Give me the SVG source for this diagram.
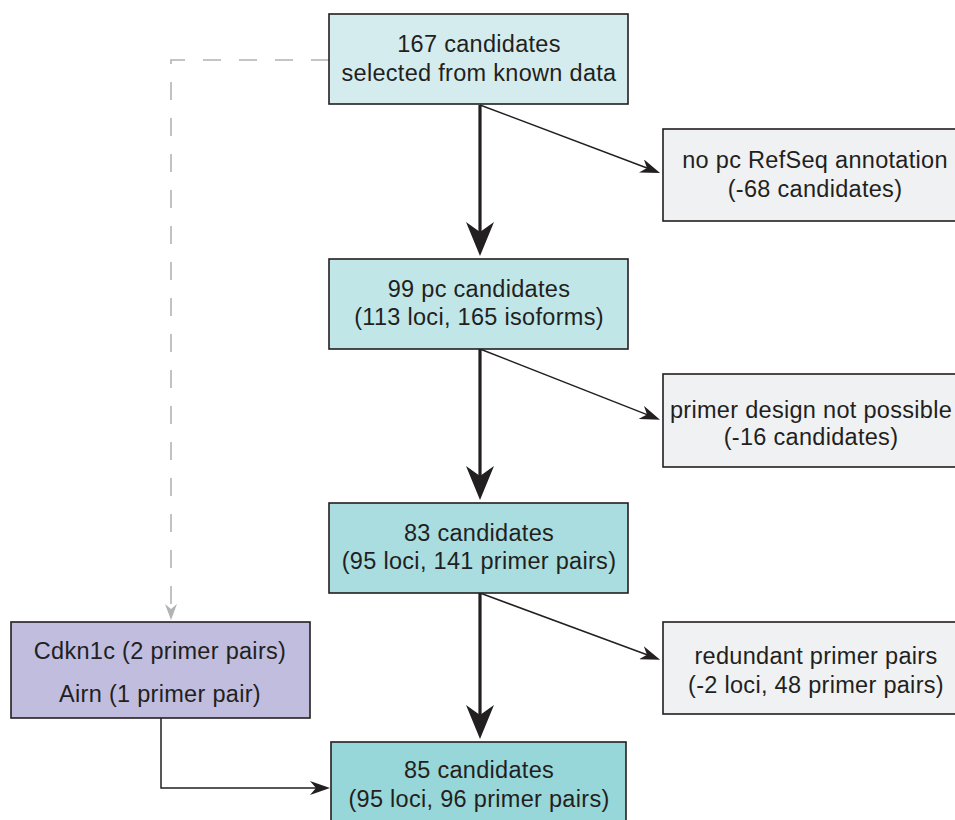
<svg xmlns="http://www.w3.org/2000/svg" width="955" height="820" viewBox="0 0 955 820">
<style>
.box{stroke:#231f20;stroke-width:1.6}
.t{font-family:"Liberation Sans",Arial,sans-serif;font-size:23.5px;letter-spacing:0.3px;fill:#231f20;text-anchor:middle}
.thick{stroke:#231f20;stroke-width:3.2;fill:none}
.thin{stroke:#231f20;stroke-width:1.5;fill:none}
.dash{stroke:#b3b3b3;stroke-width:1.6;fill:none;stroke-dasharray:18 18}
</style>
<defs>
<marker id="big" markerUnits="userSpaceOnUse" viewBox="0 -14 34 28" refX="10" refY="0" markerWidth="34" markerHeight="28" orient="auto"><path d="M34,0 L0,-14 L10,0 L0,14 Z" fill="#231f20"/></marker>
<marker id="small" markerUnits="userSpaceOnUse" viewBox="0 -7 20 14" refX="6" refY="0" markerWidth="20" markerHeight="14" orient="auto"><path d="M20,0 L0,-7 L6,0 L0,7 Z" fill="#231f20"/></marker>
<marker id="grey" markerUnits="userSpaceOnUse" viewBox="0 -6 16 12" refX="5" refY="0" markerWidth="16" markerHeight="12" orient="auto"><path d="M16,0 L0,-6 L5,0 L0,6 Z" fill="#b3b3b3"/></marker>
</defs>
<g id="connectors">
<path class="dash" d="M329,60 H171 V609" marker-end="url(#grey)"/>
<line class="thick" x1="480" y1="105" x2="480" y2="232" marker-end="url(#big)"/>
<line class="thick" x1="480" y1="349" x2="480" y2="476" marker-end="url(#big)"/>
<line class="thick" x1="480" y1="593" x2="480" y2="715" marker-end="url(#big)"/>
<line class="thin" x1="480" y1="105" x2="647" y2="168" marker-end="url(#small)"/>
<line class="thin" x1="480" y1="349" x2="647" y2="414.6" marker-end="url(#small)"/>
<line class="thin" x1="480" y1="593" x2="647" y2="654.8" marker-end="url(#small)"/>
<path class="thin" d="M161,718 V788 H316" marker-end="url(#small)"/>
</g>
<g id="n1"><rect class="box" x="329" y="14" width="299" height="90" fill="#d4ecee"/><text class="t" x="479" y="52">167 candidates</text><text class="t" x="479" y="81">selected from known data</text></g>
<g id="n2"><rect class="box" x="329" y="259" width="299" height="90" fill="#c0e6e8"/><text class="t" x="479" y="297">99 pc candidates</text><text class="t" x="479" y="325">(113 loci, 165 isoforms)</text></g>
<g id="n3"><rect class="box" x="329" y="503" width="299" height="90" fill="#a9dde0"/><text class="t" x="479" y="541">83 candidates</text><text class="t" x="479" y="569">(95 loci, 141 primer pairs)</text></g>
<g id="n4"><rect class="box" x="331" y="742" width="295" height="90" fill="#97d6d9"/><text class="t" x="479" y="778">85 candidates</text><text class="t" x="479" y="807">(95 loci, 96 primer pairs)</text></g>
<g id="r1"><rect class="box" x="663" y="129" width="305" height="92" fill="#f0f1f3"/><text class="t" x="815" y="168">no pc RefSeq annotation</text><text class="t" x="815" y="197">(-68 candidates)</text></g>
<g id="r2"><rect class="box" x="663" y="374" width="305" height="93" fill="#f0f1f3"/><text class="t" x="811" y="418">primer design not possible</text><text class="t" x="811" y="445">(-16 candidates)</text></g>
<g id="r3"><rect class="box" x="663" y="622" width="305" height="92" fill="#f0f1f3"/><text class="t" x="816" y="664">redundant primer pairs</text><text class="t" x="816" y="693">(-2 loci, 48 primer pairs)</text></g>
<g id="left"><rect class="box" x="11" y="622" width="299" height="96" fill="#c0bddf"/><text class="t" x="160" y="659">Cdkn1c (2 primer pairs)</text><text class="t" x="160" y="702">Airn (1 primer pair)</text></g>
</svg>
